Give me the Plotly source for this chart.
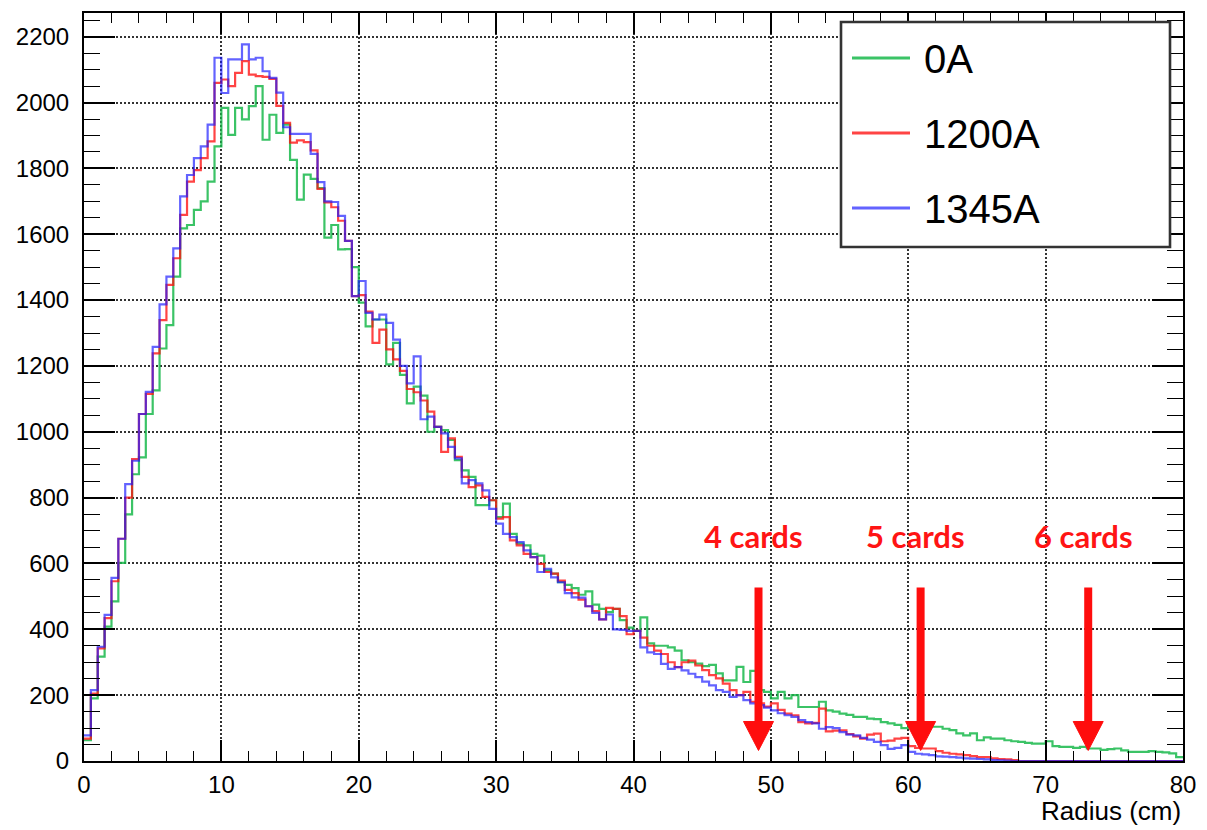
import numpy as np
import plotly.graph_objects as go

# ---- binning of the radius histograms (0.5 cm bins from 0 to 80 cm) ----
bin_width = 0.5
radius_min, radius_max = 0.0, 80.0

# ---- bin contents, one list per magnet current (160 bins each) ----
counts_0A = [
    63, 190, 317, 408, 485, 602, 749, 871, 922, 1054,
    1126, 1253, 1324, 1471, 1618, 1628, 1674, 1700, 1760, 1867,
    1984, 1902, 1984, 1949, 1989, 2050, 1887, 1963, 1908, 1933,
    1826, 1705, 1781, 1768, 1740, 1590, 1628, 1554, 1555, 1500,
    1392, 1320, 1341, 1341, 1205, 1270, 1173, 1086, 1137, 1110,
    1000, 1015, 1005, 975, 914, 883, 863, 777, 777, 792,
    741, 782, 690, 660, 655, 629, 624, 579, 569, 543,
    535, 525, 505, 515, 475, 462, 452, 462, 428, 405,
    395, 436, 357, 350, 350, 345, 335, 306, 300, 296,
    288, 292, 266, 245, 245, 286, 240, 274, 215, 210,
    190, 210, 190, 200, 164, 164, 164, 180, 154, 150,
    144, 140, 134, 134, 129, 127, 118, 114, 110, 100,
    108, 94, 90, 104, 104, 98, 94, 84, 78, 84,
    63, 72, 68, 68, 63, 60, 58, 55, 53, 53,
    60, 45, 43, 43, 40, 43, 38, 38, 34, 36,
    38, 32, 28, 28, 28, 30, 28, 26, 23, 12,
]

counts_1200A = [
    68, 205, 342, 434, 546, 675, 800, 917, 1054, 1115,
    1238, 1339, 1446, 1527, 1659, 1760, 1795, 1831, 1882, 2060,
    2070, 2050, 2090, 2126, 2085, 2080, 2078, 2072, 1990, 1938,
    1878, 1885, 1880, 1855, 1738, 1697, 1682, 1641, 1580, 1412,
    1415, 1365, 1270, 1310, 1250, 1220, 1185, 1130, 1120, 1095,
    1061, 1015, 939, 980, 924, 863, 832, 837, 802, 792,
    736, 741, 670, 655, 629, 619, 599, 574, 569, 548,
    520, 510, 490, 470, 455, 430, 465, 462, 440, 385,
    395, 375, 350, 335, 325, 300, 285, 300, 305, 290,
    276, 261, 251, 235, 215, 200, 210, 180, 175, 165,
    175, 155, 144, 139, 118, 114, 116, 159, 90, 92,
    93, 82, 75, 68, 80, 83, 60, 62, 68, 70,
    45, 40, 38, 38, 30, 25, 22, 20, 18, 15,
    12, 12, 8, 6, 5, 3, 0, 0, 0, 0,
    0, 0, 0, 0, 0, 0, 0, 0, 0, 0,
    0, 0, 0, 0, 0, 0, 0, 0, 0, 0,
]

counts_1345A = [
    78, 215, 347, 444, 556, 675, 841, 912, 1054, 1121,
    1258, 1387, 1471, 1557, 1715, 1780, 1831, 1867, 1933, 2136,
    2029, 2131, 2131, 2177, 2131, 2136, 2095, 2075, 2030, 1925,
    1905, 1905, 1905, 1844, 1758, 1700, 1698, 1656, 1580, 1412,
    1458, 1361, 1341, 1356, 1331, 1280, 1200, 1147, 1229, 1038,
    1046, 1015, 995, 954, 919, 843, 853, 843, 822, 766,
    721, 690, 680, 665, 640, 619, 574, 584, 558, 543,
    510, 497, 496, 470, 450, 430, 445, 400, 398, 395,
    395, 345, 330, 325, 295, 280, 285, 275, 265, 255,
    241, 230, 215, 210, 195, 200, 185, 175, 170, 162,
    154, 145, 139, 134, 124, 118, 114, 98, 103, 100,
    88, 80, 78, 70, 65, 58, 48, 37, 40, 48,
    28, 22, 20, 18, 14, 13, 12, 10, 8, 7,
    6, 5, 3, 2, 1, 0, 0, 0, 0, 0,
    0, 0, 0, 0, 0, 0, 0, 0, 0, 0,
    0, 0, 0, 0, 0, 0, 0, 0, 0, 0,
]

series_names = ["0A", "1200A", "1345A"]
series_counts = [counts_0A, counts_1200A, counts_1345A]
series_colors = ["rgba(25,185,75,0.85)", "rgba(255,15,15,0.78)", "rgba(25,25,255,0.68)"]

# ---- readout-card coverage radii ----
card_labels = ["4 cards", "5 cards", "6 cards"]
card_radius = [49.1, 60.9, 73.1]

# ---- axis ticks ----
x_tick_values = [0, 10, 20, 30, 40, 50, 60, 70, 80]
y_tick_values = [0, 200, 400, 600, 800, 1000, 1200, 1400, 1600, 1800, 2000, 2200]
y_max = 2272

# ---- canvas geometry ----
W, H = 1207, 830
M_L, M_R, M_T, M_B = 84, 24, 13, 69
PLOT_W = W - M_L - M_R
PLOT_H = H - M_T - M_B


def paper_x(px):
    return (px - M_L) / PLOT_W


def paper_y(py):
    return (H - M_B - py) / PLOT_H


fig = go.Figure()

n_bins = int(round((radius_max - radius_min) / bin_width))
edges = radius_min + bin_width * np.arange(n_bins + 1)

for name, counts, color in zip(series_names, series_counts, series_colors):
    y = list(counts) + [counts[-1]]
    fig.add_trace(go.Scatter(
        x=edges, y=y, name=name, mode="lines",
        line=dict(color=color, width=2.2, shape="hv"),
        showlegend=False, hoverinfo="x+y+name",
    ))

axis_font = dict(family="Liberation Sans, Arial, sans-serif", size=24, color="black")
grid_common = dict(
    showgrid=True, gridcolor="rgba(40,40,40,0.95)", gridwidth=1.6, griddash="2px,2px",
    showline=True, linecolor="black", linewidth=2, mirror="allticks",
    ticks="inside", tickcolor="black", tickwidth=1.6,
    zeroline=False, tickfont=axis_font,
)

fig.update_xaxes(
    range=[radius_min, radius_max], tickvals=x_tick_values,
    ticklen=21, ticklabelstandoff=1,
    minor=dict(ticks="inside", ticklen=10, dtick=2, tickcolor="black", tickwidth=1.4, showgrid=False),
    **grid_common,
)
fig.update_yaxes(
    range=[0, y_max], tickvals=y_tick_values,
    ticklen=31, ticklabelstandoff=8,
    minor=dict(ticks="inside", ticklen=16, dtick=50, tickcolor="black", tickwidth=1.4, showgrid=False),
    **grid_common,
)

shapes = []
annotations = []

# arrows marking the radius reached by each readout-card configuration
arrow_top, arrow_head_base = 527, 120
for label, r in zip(card_labels, card_radius):
    shapes.append(dict(type="line", xref="x", yref="y", x0=r, x1=r,
                       y0=arrow_top, y1=arrow_head_base - 10,
                       line=dict(color="#ff0d0d", width=8)))
    shapes.append(dict(type="path", xref="x", yref="y",
                       xsizemode="pixel", ysizemode="pixel",
                       xanchor=r, yanchor=arrow_head_base,
                       path="M-15,0 L15,0 L0,-29 Z",
                       fillcolor="#ff0d0d", line=dict(color="#ff0d0d", width=1)))
    annotations.append(dict(x=r - 0.35, y=682, xref="x", yref="y", text=label,
                            showarrow=False, xanchor="center", yanchor="middle",
                            font=dict(family="Lato, Open Sans, sans-serif", size=31,
                                      color="#ff1414", weight="bold")))

# legend box with line samples
shapes.append(dict(type="rect", xref="paper", yref="paper",
                   x0=paper_x(841), x1=paper_x(1170), y0=paper_y(247), y1=paper_y(22),
                   fillcolor="white", line=dict(color="#333333", width=2.6), layer="above"))
legend_rows_py = [58, 133, 208]
for name, color, py in zip(series_names, series_colors, legend_rows_py):
    shapes.append(dict(type="line", xref="paper", yref="paper",
                       x0=paper_x(852), x1=paper_x(910), y0=paper_y(py), y1=paper_y(py),
                       line=dict(color=color, width=3), layer="above"))
    annotations.append(dict(x=paper_x(922), y=paper_y(py + 1), xref="paper", yref="paper",
                            text=name, showarrow=False, xanchor="left", yanchor="middle",
                            font=dict(family="Liberation Sans, Arial, sans-serif",
                                      size=40, color="black")))

# axis title, right-aligned under the axis end
annotations.append(dict(x=1.0, y=paper_y(811), xref="paper", yref="paper",
                        text="Radius (cm)", showarrow=False, xanchor="right", yanchor="middle",
                        font=dict(family="Liberation Sans, Arial, sans-serif", size=26, color="black")))

fig.update_layout(
    width=W, height=H, autosize=False,
    margin=dict(l=M_L, r=M_R, t=M_T, b=M_B, pad=0),
    plot_bgcolor="white", paper_bgcolor="white",
    shapes=shapes, annotations=annotations,
    showlegend=False,
)

fig.write_html("out.html")
